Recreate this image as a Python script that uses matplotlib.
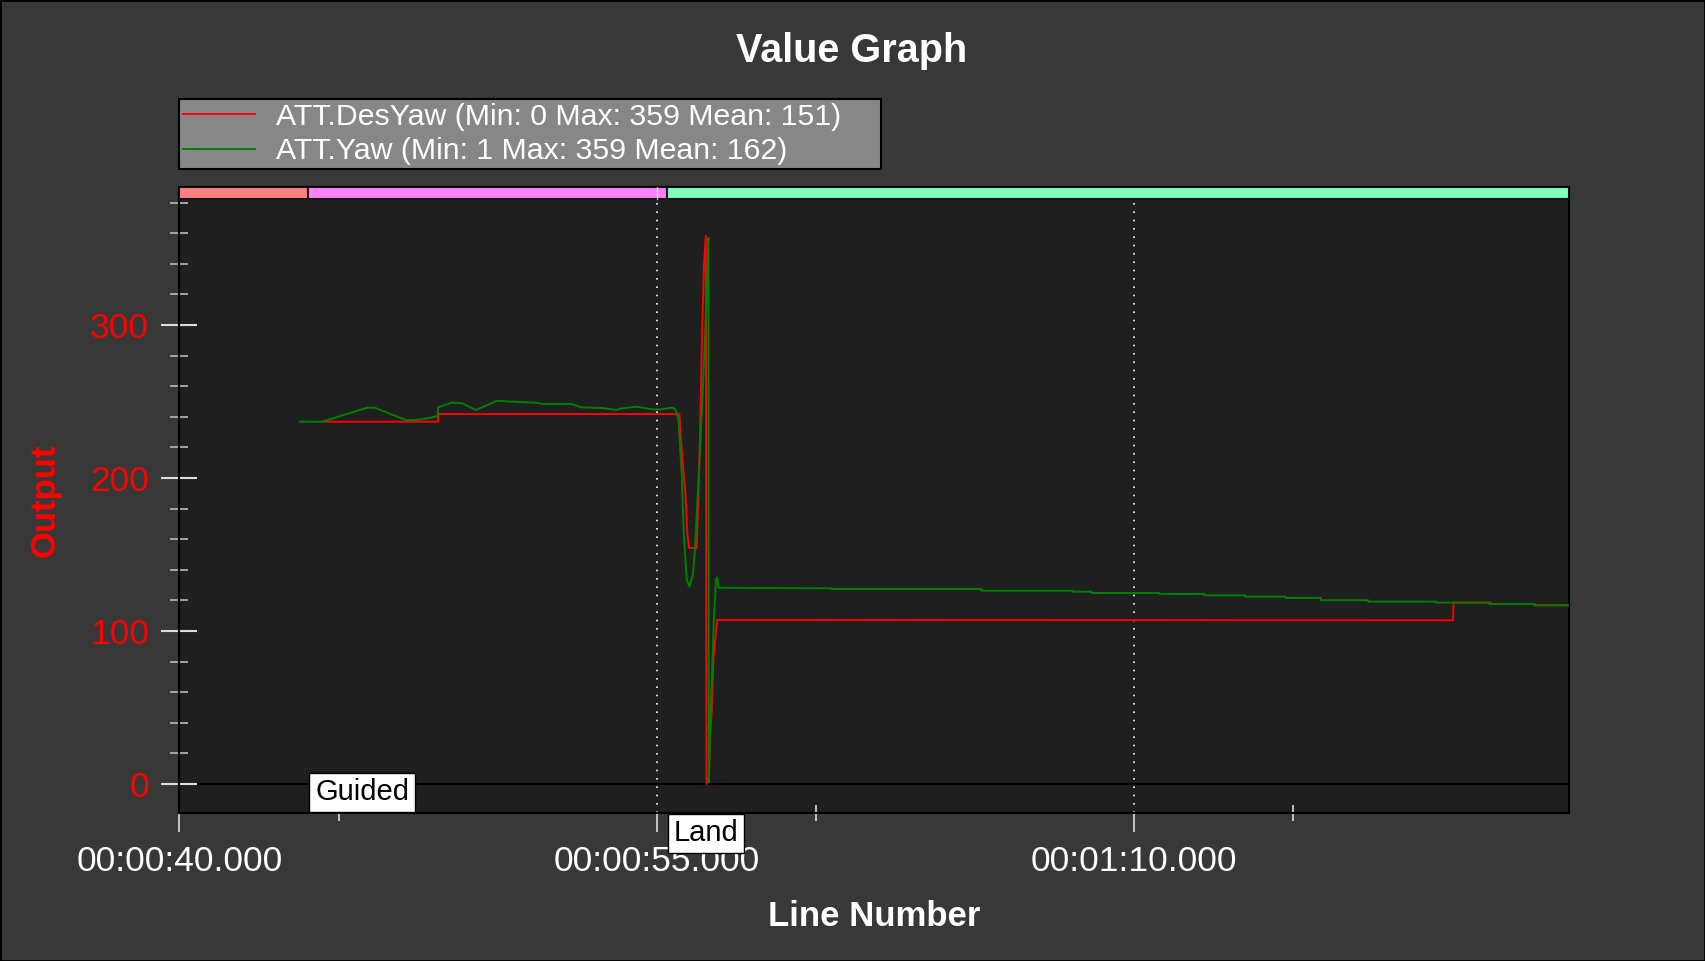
import matplotlib.pyplot as plt
import matplotlib.ticker as mticker
from matplotlib.patches import Rectangle
import matplotlib.transforms as mtransforms

plt.rcParams['font.family'] = ['Liberation Sans', 'DejaVu Sans']

# --- data (time in seconds of log) ---
yaw_t = [43.79, 44.48, 45.91, 46.13, 46.79, 47.12, 47.45, 47.89, 48.11, 48.13,
         48.55, 48.88, 49.32, 49.98, 50.32, 51.20, 51.42, 52.30, 52.63, 53.29,
         53.73, 53.84, 54.34, 54.95, 55.17, 55.49, 55.60, 55.68, 55.78, 55.85,
         55.94, 56.02, 56.13, 56.20, 56.27, 56.36, 56.46, 56.54, 56.59, 56.62,
         56.63, 56.67, 56.72, 56.80, 56.86, 56.90, 56.94,
         60.49, 60.49, 65.20, 65.20, 68.06, 68.06, 68.66, 68.66, 70.79, 70.79,
         72.20, 72.20, 73.48, 73.48, 74.76, 74.76, 75.87, 75.87, 77.35, 77.35,
         79.47, 79.47, 81.15, 81.15, 82.57, 82.57, 83.63]
yaw_v = [236.8, 236.8, 246.0, 246.0, 240.5, 237.9, 237.9, 239.4, 240.5, 246.2,
         249.2, 248.9, 244.4, 250.5, 250.0, 249.2, 248.4, 248.4, 246.2, 245.7,
         244.4, 245.3, 246.6, 244.6, 245.0, 246.0, 244.4, 238.0, 203.4, 162.0,
         133.6, 129.0, 136.2, 154.0, 182.7, 219.0, 265.0, 306.7, 332.7, 357.0,
         1.0, 32.8, 63.8, 110.5, 133.6, 135.0, 128.2,
         127.9, 127.4, 127.4, 126.3, 126.3, 125.7, 125.7, 124.8, 124.8, 124.2,
         124.2, 123.3, 123.3, 122.4, 122.4, 121.6, 121.6, 120.1, 120.1, 119.2,
         119.2, 118.5, 118.5, 117.6, 117.6, 116.8, 116.8]

desyaw_t = [44.48, 48.13, 48.13, 55.71, 55.76, 55.83, 55.90, 55.96, 56.01, 56.25,
            56.30, 56.36, 56.41, 56.48, 56.54, 56.56, 56.64, 56.67, 56.72, 56.78,
            56.86, 56.90, 80.02, 80.03, 81.20, 81.20, 82.60, 82.60, 83.63]
desyaw_v = [236.8, 236.8, 241.8, 241.8, 225.0, 206.0, 189.0, 163.4, 154.3, 154.3,
            182.7, 229.0, 283.6, 339.0, 358.4, 0.0, 5.0, 30.2, 45.7, 81.9,
            100.0, 107.2, 107.0, 118.5, 118.5, 117.6, 117.6, 116.8, 116.8]

mode_names = ['', 'Guided', 'Land']
mode_start = [40.0, 44.05, 55.31]
mode_colors = ['#FF8080', '#FF80FF', '#80FFC0']

x_start, x_end = 40.0, 83.66
legend_labels = ['ATT.DesYaw (Min: 0 Max: 359 Mean: 151)',
                 'ATT.Yaw (Min: 1 Max: 359 Mean: 162)']

W, H = 1705, 961
fig = plt.figure(figsize=(W / 100, H / 100), dpi=100, facecolor='#383838')
fig.patches.append(Rectangle((0, 0), 1, 1, transform=fig.transFigure,
                             fill=False, edgecolor='black', linewidth=2))

ax = fig.add_axes([179.4 / W, 1 - 813 / H, (1569 - 179.4) / W, (813 - 187) / H])
ax.set_facecolor('#1F1F1F')
ax.set_xlim(x_start, x_end)
ax.set_ylim(-19.0, 390.2)

for s in ax.spines.values():
    s.set_color('black')
    s.set_linewidth(1.5)

# dotted grid at major x ticks
for gx in [40, 55, 70]:
    ax.axvline(gx, color='white', linestyle=(0, (1, 4)), linewidth=1.2, zorder=1)
ax.axhline(0, color='black', linewidth=1.5, zorder=1)

l1, = ax.plot(desyaw_t, desyaw_v, color='#FF0000', linewidth=1.4, zorder=3)
l2, = ax.plot(yaw_t, yaw_v, color='#008000', linewidth=1.4, zorder=3)

# flight mode bar along the top
bar_tf = mtransforms.blended_transform_factory(ax.transData, ax.transAxes)
bar_y0 = (813 - 199) / (813 - 187)
bounds = mode_start + [x_end]
for i, c in enumerate(mode_colors):
    ax.add_patch(Rectangle((bounds[i], bar_y0), bounds[i + 1] - bounds[i], 1 - bar_y0,
                           transform=bar_tf, facecolor=c, edgecolor='#141414',
                           linewidth=1.5, zorder=4))
ax.plot([55, 55], [bar_y0, 1], transform=bar_tf, color='white', lw=1, alpha=0.7, zorder=5)

# mode labels
ax.annotate(mode_names[1], xy=(mode_start[1], -18.3), xytext=(5, 4),
            textcoords='offset points', ha='left', va='bottom', fontsize=21,
            color='black', zorder=6, annotation_clip=False,
            bbox=dict(boxstyle='square,pad=0.2', facecolor='white', edgecolor='black', lw=1))
ax.annotate(mode_names[2], xy=(mode_start[2], -19.6), xytext=(5, -4),
            textcoords='offset points', ha='left', va='top', fontsize=21,
            color='black', zorder=6, annotation_clip=False,
            bbox=dict(boxstyle='square,pad=0.2', facecolor='white', edgecolor='black', lw=1))

# ticks
ax.xaxis.set_major_locator(mticker.FixedLocator([40, 55, 70]))
ax.xaxis.set_minor_locator(mticker.FixedLocator([45, 60, 75]))


def fmt_time(v, pos):
    s = int(round(v))
    return '%02d:%02d:%02d.000' % (s // 3600, (s // 60) % 60, s % 60)


ax.xaxis.set_major_formatter(mticker.FuncFormatter(fmt_time))
ax.tick_params(axis='x', which='major', direction='out', length=14, width=1.2,
               color='#DDDDDD', labelcolor='white', labelsize=25.5, pad=9)
ax.tick_params(axis='x', which='minor', direction='inout', length=12, width=1.2,
               color='#DDDDDD')
ax.yaxis.set_major_locator(mticker.FixedLocator([0, 100, 200, 300]))
ax.yaxis.set_minor_locator(mticker.MultipleLocator(20))
ax.tick_params(axis='y', which='major', direction='inout', length=26, width=1.5,
               color='#DDDDDD', labelcolor='#FF0000', labelsize=25.5, pad=9)
ax.tick_params(axis='y', which='minor', direction='inout', length=13, width=1.2,
               color='#BBBBBB')

ax.set_xlabel('Line Number', fontsize=25, fontweight='bold', color='white', labelpad=16)
ax.set_ylabel('Output', fontsize=25, fontweight='bold', color='#FF0000', labelpad=20)
fig.text(0.4997, 1 - 51 / H, 'Value Graph', fontsize=28.5, fontweight='bold',
         color='white', ha='center', va='center')

leg = fig.legend([l1, l2], legend_labels, loc='lower left',
                 bbox_to_anchor=(179 / W, 1 - 169 / H, (881 - 179) / W, (169 - 98) / H),
                 mode='expand', fontsize=21.8, frameon=True, fancybox=False,
                 handlelength=2.4, handletextpad=0.7, labelspacing=0.22,
                 borderpad=0.12, borderaxespad=0)
leg.get_frame().set_facecolor('#878787')
leg.get_frame().set_edgecolor('black')
leg.get_frame().set_alpha(1)
leg.get_frame().set_linewidth(1.5)
for t in leg.get_texts():
    t.set_color('white')

fig.savefig('out.png', dpi=100, facecolor=fig.get_facecolor())
